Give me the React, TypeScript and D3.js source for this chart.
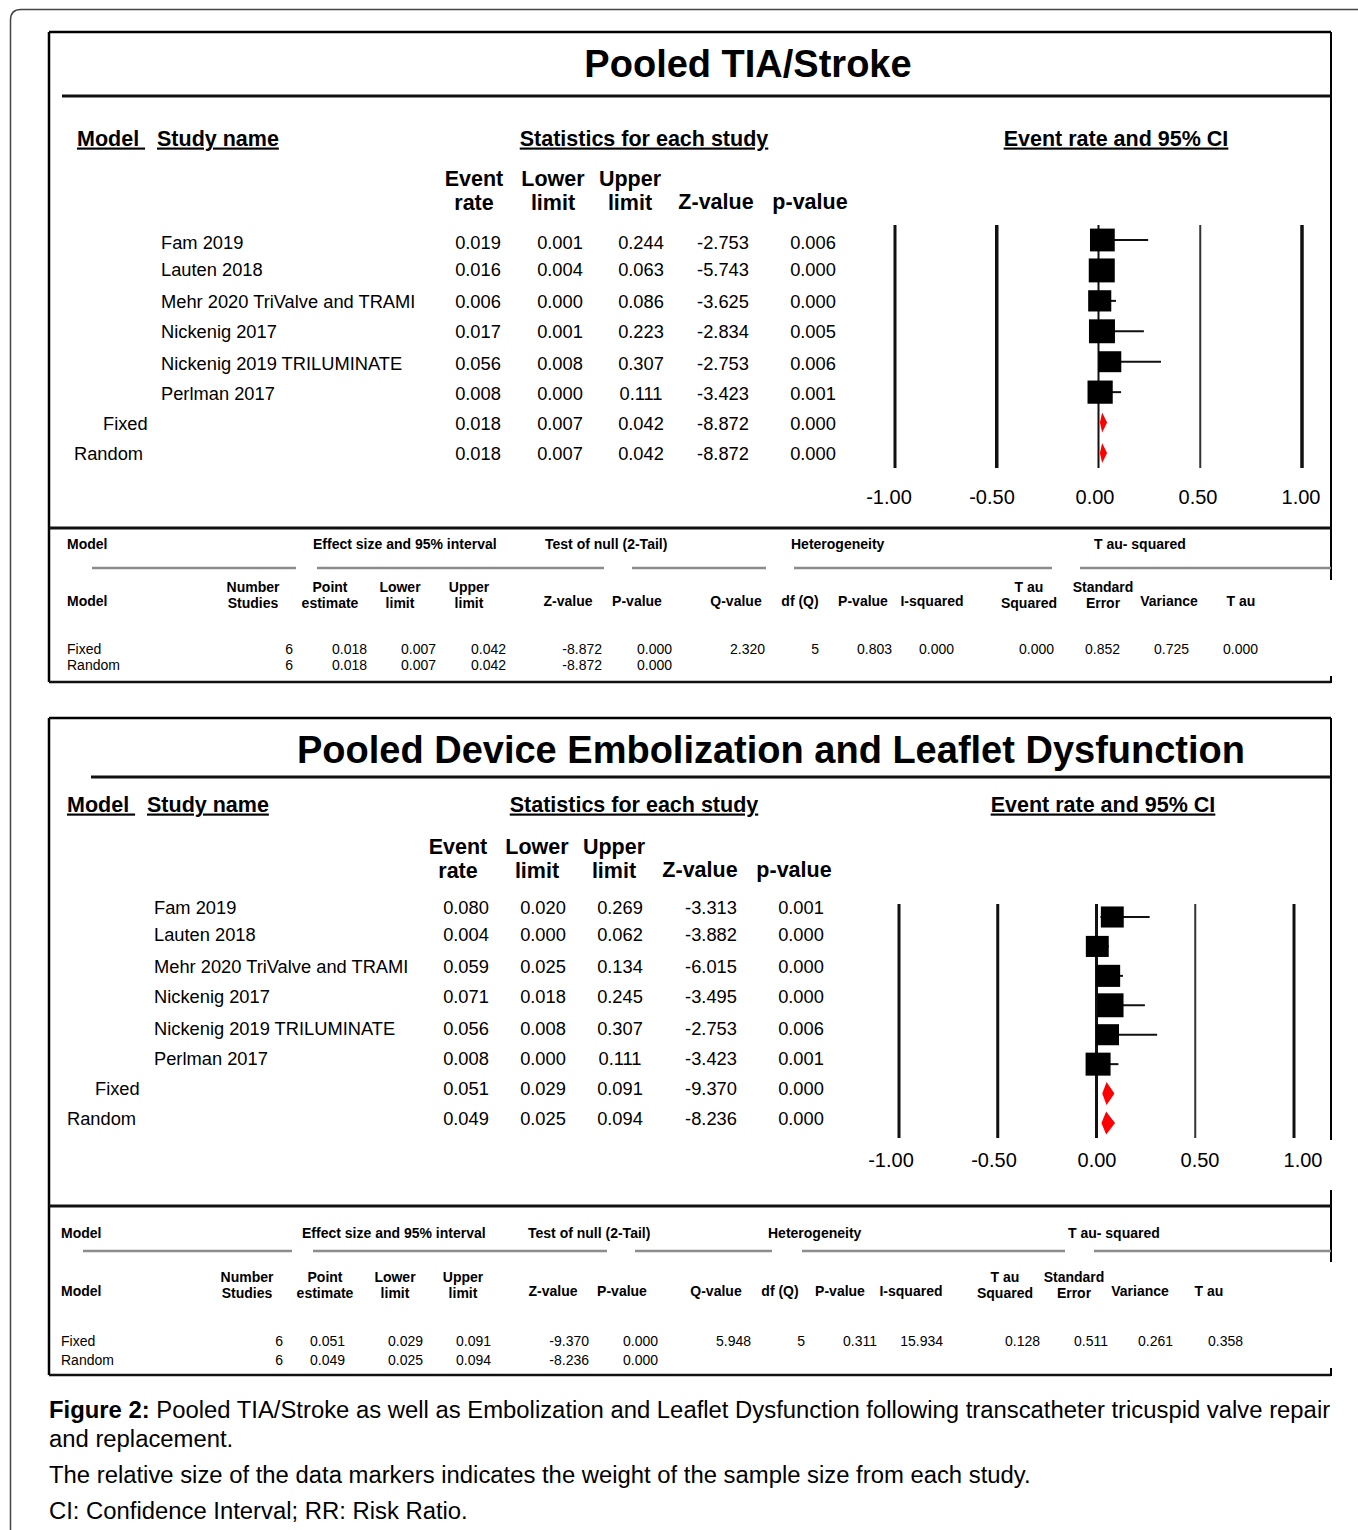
import React from "react";
import * as d3 from "d3";

// ---- Study-level data ----
const studyNames = [
  "Fam 2019",
  "Lauten 2018",
  "Mehr 2020 TriValve and TRAMI",
  "Nickenig 2017",
  "Nickenig 2019 TRILUMINATE",
  "Perlman 2017",
];
const pooledModels = ["Fixed", "Random"];

// Pooled TIA/Stroke
const tiaRate = [0.019, 0.016, 0.006, 0.017, 0.056, 0.008];
const tiaLower = [0.001, 0.004, 0.0, 0.001, 0.008, 0.0];
const tiaUpper = [0.244, 0.063, 0.086, 0.223, 0.307, 0.111];
const tiaZ = [-2.753, -5.743, -3.625, -2.834, -2.753, -3.423];
const tiaP = [0.006, 0.0, 0.0, 0.005, 0.006, 0.001];
const tiaWeight = [16.8, 18.5, 14.6, 18.5, 14.2, 17.4];
const tiaPooledRate = [0.018, 0.018];
const tiaPooledLower = [0.007, 0.007];
const tiaPooledUpper = [0.042, 0.042];
const tiaPooledZ = [-8.872, -8.872];
const tiaPooledP = [0.0, 0.0];
// Q-value, df(Q), P-value, I-squared
const tiaHeterogeneity = [2.32, 5, 0.803, 0.0];
// Tau squared, standard error, variance, tau
const tiaTauSquared = [0.0, 0.852, 0.725, 0.0];

// Pooled Device Embolization and Leaflet Dysfunction
const embRate = [0.08, 0.004, 0.059, 0.071, 0.056, 0.008];
const embLower = [0.02, 0.0, 0.025, 0.018, 0.008, 0.0];
const embUpper = [0.269, 0.062, 0.134, 0.245, 0.307, 0.111];
const embZ = [-3.313, -3.882, -6.015, -3.495, -2.753, -3.423];
const embP = [0.001, 0.0, 0.0, 0.0, 0.006, 0.001];
const embWeight = [15.2, 15.2, 16.7, 19.6, 15.2, 18.1];
const embPooledRate = [0.051, 0.049];
const embPooledLower = [0.029, 0.025];
const embPooledUpper = [0.091, 0.094];
const embPooledZ = [-9.37, -8.236];
const embPooledP = [0.0, 0.0];
const embHeterogeneity = [5.948, 5, 0.311, 15.934];
const embTauSquared = [0.128, 0.511, 0.261, 0.358];

const axisTicks = [-1, -0.5, 0, 0.5, 1];

const studyColumns = [["Event", "rate"], ["Lower", "limit"], ["Upper", "limit"], ["Z-value"], ["p-value"]];
const summaryGroups = ["Effect size and 95% interval", "Test of null (2-Tail)", "Heterogeneity", "T au- squared"];
const summaryColumns = [
  ["Number", "Studies"], ["Point", "estimate"], ["Lower", "limit"], ["Upper", "limit"],
  ["Z-value"], ["P-value"], ["Q-value"], ["df (Q)"], ["P-value"], ["I-squared"],
  ["T au", "Squared"], ["Standard", "Error"], ["Variance"], ["T au"],
];

const FONT = "'Liberation Sans', Arial, Helvetica, sans-serif";
const f3 = (v: number) => v.toFixed(3);

type Layout = {
  top: number; bottom: number; left: number; right: number;
  title: string; titleX: number; titleY: number; titleRuleY: number; titleRuleX0: number;
  headY: number; modelX: number; studyX: number; statsX: number; ciX: number;
  colHeadY: number[]; colHeadX: number[]; colX: number[];
  textRowY: number[]; nameX: number; pooledX: number[];
  plotX: number[]; labelX: number[]; plotRowY: number[]; lineY: number[]; tickY: number; lineWidths: number[]; diamondH: number;
  sumTop: number; sumHeadY: number; sumModelX: number; groupX: number[]; ruleY: number; ruleSegs: number[][];
  sumColHeadY: number[]; sumSingleY: number; sumColX: number[]; sumRowY: number[]; sumValX: number[];
  rightBorder: number[][];
};

type PanelData = {
  rate: number[]; lower: number[]; upper: number[]; z: number[]; p: number[]; weight: number[];
  pRate: number[]; pLower: number[]; pUpper: number[]; pZ: number[]; pP: number[];
  het: number[]; tau: number[];
};

const mid = (cy: number, fs: number) => cy + fs * 0.35;

function Panel({ L, D }: { L: Layout; D: PanelData }) {
  const x = d3.scaleLinear().domain([-1, 1]).range(L.plotX);
  const xLabel = d3.scaleLinear().domain([-1, 1]).range(L.labelX);
  const rows = [...studyNames, ...pooledModels];
  const y = d3.scalePoint<string>().domain(rows).range(L.plotRowY);
  const size = d3.scaleSqrt().domain([0, d3.max(D.weight) as number]).range([0, 26]);

  const studyVals = studyNames.map((_, i) => [D.rate[i], D.lower[i], D.upper[i], D.z[i], D.p[i]]);
  const pooledVals = pooledModels.map((_, i) => [D.pRate[i], D.pLower[i], D.pUpper[i], D.pZ[i], D.pP[i]]);
  const allVals = [...studyVals, ...pooledVals];

  const sumRows = pooledModels.map((_, i) => {
    const base = [studyNames.length, D.pRate[i], D.pLower[i], D.pUpper[i], D.pZ[i], D.pP[i]];
    return i === 0 ? [...base, ...D.het, ...D.tau] : base;
  });
  const intCols = new Set([0, 7]);

  return (
    <g fontFamily={FONT} fill="#000">
      {/* frame */}
      <line x1={L.left} x2={L.left} y1={L.top} y2={L.bottom} stroke="#000" strokeWidth={2.5} />
      <line x1={L.left} x2={L.right} y1={L.top} y2={L.top} stroke="#000" strokeWidth={2.5} />
      <line x1={L.left} x2={L.right} y1={L.bottom} y2={L.bottom} stroke="#111" strokeWidth={2.5} />
      {L.rightBorder.map(([a, b], i) => (
        <line key={i} x1={L.right} x2={L.right} y1={a} y2={b} stroke="#000" strokeWidth={2} />
      ))}

      {/* title */}
      <text x={L.titleX} y={mid(L.titleY, 38)} fontSize={38} fontWeight="bold" textAnchor="middle">{L.title}</text>
      <line x1={L.titleRuleX0} x2={L.right} y1={L.titleRuleY} y2={L.titleRuleY} stroke="#111" strokeWidth={3} />

      {/* section headings */}
      {[
        { t: "Model ", x: L.modelX, a: "start" },
        { t: "Study name", x: L.studyX, a: "start" },
        { t: "Statistics for each study", x: L.statsX, a: "middle" },
        { t: "Event rate and 95% CI", x: L.ciX, a: "middle" },
      ].map((h, i) => (
        <text key={i} x={h.x} y={mid(L.headY, 21.5)} fontSize={21.5} fontWeight="bold" textAnchor={h.a as any}
          style={{ textDecoration: "underline", whiteSpace: "pre" }}>{h.t}</text>
      ))}

      {/* column headings */}
      {studyColumns.map((c, i) =>
        c.length === 2 ? (
          <g key={i}>
            <text x={L.colHeadX[i]} y={mid(L.colHeadY[0], 21.5)} fontSize={21.5} fontWeight="bold" textAnchor="middle">{c[0]}</text>
            <text x={L.colHeadX[i]} y={mid(L.colHeadY[1], 21.5)} fontSize={21.5} fontWeight="bold" textAnchor="middle">{c[1]}</text>
          </g>
        ) : (
          <text key={i} x={L.colHeadX[i]} y={mid(L.colHeadY[1] - 1, 21.5)} fontSize={21.5} fontWeight="bold" textAnchor="middle">{c[0]}</text>
        )
      )}

      {/* row labels and values */}
      {rows.map((r, i) => {
        const isPooled = i >= studyNames.length;
        const lx = isPooled ? L.pooledX[i - studyNames.length] : L.nameX;
        return (
          <g key={r}>
            <text x={lx} y={mid(L.textRowY[i], 18.3)} fontSize={18.3}>{r}</text>
            {allVals[i].map((v, j) => (
              <text key={j} x={L.colX[j]} y={mid(L.textRowY[i], 18.3)} fontSize={18.3} textAnchor="middle">{f3(v)}</text>
            ))}
          </g>
        );
      })}

      {/* forest plot */}
      {axisTicks.map((t, i) => (
        <g key={t}>
          <line x1={x(t)} x2={x(t)} y1={L.lineY[0]} y2={L.lineY[1]} stroke={t === 0.5 ? "#333" : "#111"} strokeWidth={L.lineWidths[i]} />
          <text x={xLabel(t)} y={mid(L.tickY, 20)} fontSize={20} textAnchor="middle">{t.toFixed(2)}</text>
        </g>
      ))}
      {studyNames.map((s, i) => {
        const cy = y(s) as number;
        const w = size(D.weight[i]);
        const h = w * 0.92;
        return (
          <g key={s}>
            <line x1={x(D.lower[i])} x2={x(D.upper[i])} y1={cy} y2={cy} stroke="#111" strokeWidth={2} />
            <rect x={x(D.rate[i]) - w / 2} y={cy - h / 2} width={w} height={h} fill="#000" />
          </g>
        );
      })}
      {pooledModels.map((m, i) => {
        const cy = y(m) as number;
        const hh = L.diamondH / 2;
        const pts = [
          [x(D.pLower[i]), cy], [x(D.pRate[i]), cy - hh], [x(D.pUpper[i]), cy], [x(D.pRate[i]), cy + hh],
        ].map((p) => p.join(",")).join(" ");
        return <polygon key={m} points={pts} fill="#ff0000" />;
      })}

      {/* summary table */}
      <line x1={L.left} x2={L.right} y1={L.sumTop} y2={L.sumTop} stroke="#111" strokeWidth={3} />
      <text x={L.sumModelX} y={mid(L.sumHeadY, 14)} fontSize={14} fontWeight="bold">Model</text>
      {summaryGroups.map((g, i) => (
        <text key={g} x={L.groupX[i]} y={mid(L.sumHeadY, 14)} fontSize={14} fontWeight="bold">{g}</text>
      ))}
      {L.ruleSegs.map(([a, b], i) => (
        <line key={i} x1={a} x2={b} y1={L.ruleY} y2={L.ruleY} stroke="#8c8c8c" strokeWidth={2.5} />
      ))}
      <text x={L.sumModelX} y={mid(L.sumSingleY, 14)} fontSize={14} fontWeight="bold">Model</text>
      {summaryColumns.map((c, i) =>
        c.length === 2 ? (
          <g key={i}>
            <text x={L.sumColX[i]} y={mid(L.sumColHeadY[0], 14)} fontSize={14} fontWeight="bold" textAnchor="middle">{c[0]}</text>
            <text x={L.sumColX[i]} y={mid(L.sumColHeadY[1], 14)} fontSize={14} fontWeight="bold" textAnchor="middle">{c[1]}</text>
          </g>
        ) : (
          <text key={i} x={L.sumColX[i]} y={mid(L.sumSingleY, 14)} fontSize={14} fontWeight="bold" textAnchor="middle">{c[0]}</text>
        )
      )}
      {sumRows.map((vals, r) => (
        <g key={r}>
          <text x={L.sumModelX} y={mid(L.sumRowY[r], 14)} fontSize={14}>{pooledModels[r]}</text>
          {vals.map((v, j) => (
            <text key={j} x={L.sumValX[j]} y={mid(L.sumRowY[r], 14)} fontSize={14} textAnchor="end">
              {intCols.has(j) ? String(v) : f3(v)}
            </text>
          ))}
        </g>
      ))}
    </g>
  );
}

const tiaLayout: Layout = {
  top: 32, bottom: 682, left: 49, right: 1331,
  title: "Pooled TIA/Stroke", titleX: 748, titleY: 64, titleRuleY: 96, titleRuleX0: 62,
  headY: 138, modelX: 77, studyX: 157, statsX: 644, ciX: 1116,
  colHeadY: [178, 202], colHeadX: [474, 553, 630, 716, 810], colX: [478, 560, 641, 723, 813],
  textRowY: [243, 270, 302, 332, 364, 394, 424, 454], nameX: 161, pooledX: [103, 74],
  plotX: [895, 1302], labelX: [889, 1301], plotRowY: [240, 453], lineY: [225, 468], tickY: 497,
  lineWidths: [3, 3.5, 2, 2, 3.5], diamondH: 20,
  sumTop: 528, sumHeadY: 544, sumModelX: 67, groupX: [313, 545, 791, 1094], ruleY: 568,
  ruleSegs: [[92, 296], [317, 604], [632, 766], [794, 1052], [1080, 1331]],
  sumColHeadY: [587, 603], sumSingleY: 601,
  sumColX: [253, 330, 400, 469, 568, 637, 736, 800, 863, 932, 1029, 1103, 1169, 1241],
  sumRowY: [649, 665],
  sumValX: [293, 367, 436, 506, 602, 672, 765, 819, 892, 954, 1054, 1120, 1189, 1258],
  rightBorder: [[32, 580], [676, 683]],
};

const embLayout: Layout = {
  top: 718, bottom: 1375, left: 49, right: 1331,
  title: "Pooled Device Embolization and Leaflet Dysfunction", titleX: 771, titleY: 750, titleRuleY: 777, titleRuleX0: 91,
  headY: 804, modelX: 67, studyX: 147, statsX: 634, ciX: 1103,
  colHeadY: [846, 870], colHeadX: [458, 537, 614, 700, 794], colX: [466, 543, 620, 711, 801],
  textRowY: [908, 935, 967, 997, 1029, 1059, 1089, 1119], nameX: 154, pooledX: [95, 67],
  plotX: [899, 1294], labelX: [891, 1303], plotRowY: [917, 1123], lineY: [904, 1138], tickY: 1160,
  lineWidths: [3, 3, 3, 2, 3], diamondH: 23,
  sumTop: 1206, sumHeadY: 1233, sumModelX: 61, groupX: [302, 528, 768, 1068], ruleY: 1251,
  ruleSegs: [[83, 292], [313, 607], [635, 772], [802, 1065], [1094, 1331]],
  sumColHeadY: [1277, 1293], sumSingleY: 1291,
  sumColX: [247, 325, 395, 463, 553, 622, 716, 780, 840, 911, 1005, 1074, 1140, 1209],
  sumRowY: [1341, 1360],
  sumValX: [283, 345, 423, 491, 589, 658, 751, 805, 877, 943, 1040, 1108, 1173, 1243],
  rightBorder: [[718, 1140], [1190, 1262], [1368, 1376]],
};

const tiaData: PanelData = {
  rate: tiaRate, lower: tiaLower, upper: tiaUpper, z: tiaZ, p: tiaP, weight: tiaWeight,
  pRate: tiaPooledRate, pLower: tiaPooledLower, pUpper: tiaPooledUpper, pZ: tiaPooledZ, pP: tiaPooledP,
  het: tiaHeterogeneity, tau: tiaTauSquared,
};
const embData: PanelData = {
  rate: embRate, lower: embLower, upper: embUpper, z: embZ, p: embP, weight: embWeight,
  pRate: embPooledRate, pLower: embPooledLower, pUpper: embPooledUpper, pZ: embPooledZ, pP: embPooledP,
  het: embHeterogeneity, tau: embTauSquared,
};

export default function App() {
  const W = 1358, H = 1530;
  return (
    <svg width={W} height={H} viewBox={`0 0 ${W} ${H}`}
      style={{ position: "absolute", left: 0, top: 0, display: "block", background: "#fff" }}>
      <rect width={W} height={H} fill="#fff" />
      {/* outer rounded frame */}
      <path d={`M10.5,${H} L10.5,20 Q10.5,9.5 21,9.5 L${W},9.5`} fill="none" stroke="#444" strokeWidth={1.5} />
      <Panel L={tiaLayout} D={tiaData} />
      <Panel L={embLayout} D={embData} />
      <g fontFamily={FONT} fontSize={23.85} fill="#000">
        <text x={49} y={1418}>
          <tspan fontWeight="bold">Figure 2:</tspan>
          <tspan> Pooled TIA/Stroke as well as Embolization and Leaflet Dysfunction following transcatheter tricuspid valve repair</tspan>
        </text>
        <text x={49} y={1447}>and replacement.</text>
        <text x={49} y={1483}>The relative size of the data markers indicates the weight of the sample size from each study.</text>
        <text x={49} y={1519}>CI: Confidence Interval; RR: Risk Ratio.</text>
      </g>
    </svg>
  );
}
